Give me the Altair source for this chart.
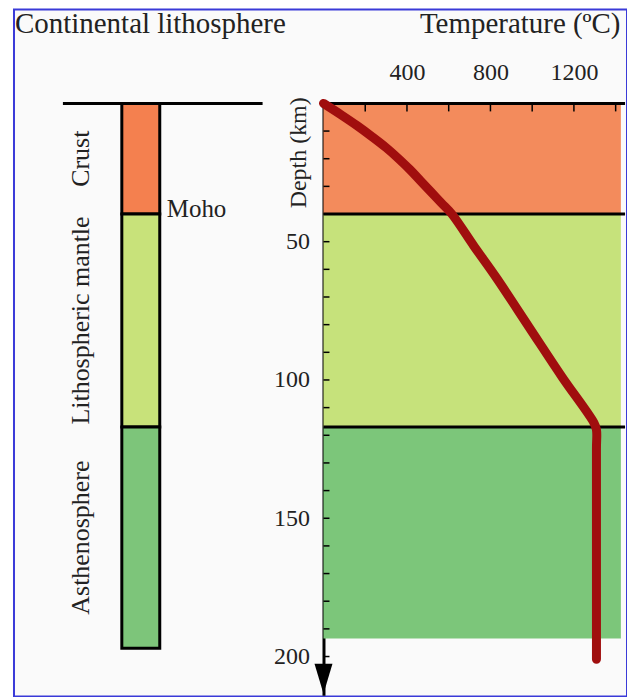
import altair as alt
import pandas as pd

# ---------------- data ----------------
main_title = "Continental lithosphere"
temp_title = "Temperature (ºC)"
depth_title = "Depth (km)"

layer_names = ["Crust", "Lithospheric mantle", "Asthenosphere"]
layer_top = [0, 40, 117]
strip_bottom = [40, 117, 197]
band_bottom = [40, 117, 193.5]
strip_colors = ["#F4804F", "#C8E27A", "#7DC57A"]
band_colors = ["#F38B5C", "#C6E27B", "#7CC67A"]

boundary_depth = [0, 40, 117]
moho_label = "Moho"
moho_depth = 40

geo_temp = [0, 82, 160, 232, 300, 360, 415, 465, 515, 565, 615,
            720, 828, 986, 1144, 1296, 1308, 1308, 1308]
geo_depth = [0, 4, 8, 12, 16, 20, 24, 28, 32, 36, 40,
             51.5, 63, 81, 99, 115.5, 118, 125, 201]

temp_ticks = [200, 400, 600, 800, 1000, 1200, 1400]
temp_labels = [400, 800, 1200]
depth_ticks = list(range(10, 201, 10))
depth_labels = [50, 100, 150, 200]

FONT = "Liberation Serif"
TXT = "#222222"

# ---------------- tables ----------------
strip_df = pd.DataFrame({"name": layer_names, "top": layer_top, "bottom": strip_bottom})
band_df = pd.DataFrame({"name": layer_names, "top": layer_top, "bottom": band_bottom,
                        "tmin": [0] * 3, "tmax": [1425] * 3})
bound_df = pd.DataFrame({"depth": boundary_depth})
geo_df = pd.DataFrame({"temp": geo_temp, "depth": geo_depth})
ytick_df = pd.DataFrame({"depth": depth_ticks})
xtick_df = pd.DataFrame({"temp": temp_ticks})

x_scale = alt.Scale(domain=[0, 1440], range=[310, 611], nice=False, zero=False)
y_scale = alt.Scale(domain=[0, 214], range=[94, 686.8], nice=False, zero=False)

x_axis = alt.Axis(
    orient="top", offset=-94, values=temp_labels, format="d",
    domain=False, ticks=False, grid=False, labelOverlap=False,
    labelFont=FONT, labelFontSize=24, labelColor=TXT,
    labelBaseline="alphabetic", labelPadding=24, labelAngle=0,
    title=temp_title, titleFont=FONT, titleFontSize=29, titleFontWeight="normal",
    titleColor=TXT, titleX=607, titleY=-71, titleAlign="right",
    titleBaseline="alphabetic", titleAngle=0,
)
y_axis = alt.Axis(
    orient="left", offset=-310, values=depth_labels, format="d",
    domain=True, domainColor="black", domainWidth=3,
    ticks=False, grid=False, labelOverlap=False,
    labelFont=FONT, labelFontSize=24, labelColor=TXT,
    labelPadding=14, labelBaseline="middle",
    title=depth_title, titleFont=FONT, titleFontSize=24, titleFontWeight="normal",
    titleColor=TXT, titleX=-25, titleY=143, titleAngle=270,
    titleAlign="center", titleBaseline="middle",
)

# right panel colour bands
bands = alt.Chart(band_df).mark_rect().encode(
    x=alt.X("tmin:Q", scale=x_scale, axis=x_axis),
    x2="tmax:Q",
    y=alt.Y("top:Q", scale=y_scale, axis=y_axis),
    y2="bottom:Q",
    color=alt.Color("name:N", scale=alt.Scale(domain=layer_names, range=band_colors), legend=None),
)

bounds = alt.Chart(bound_df).mark_rule(color="black", strokeWidth=3).encode(
    y="depth:Q", x=alt.datum(0), x2=alt.datum(1445)
)

# inward-pointing tick marks
yticks = alt.Chart(ytick_df).mark_tick(orient="horizontal", size=6, thickness=1.5,
                                       color="black", xOffset=3, opacity=1).encode(
    y="depth:Q", x=alt.datum(0)
)
xticks = alt.Chart(xtick_df).mark_tick(orient="vertical", size=8, thickness=1.5,
                                       color="black", yOffset=4, opacity=1).encode(
    x="temp:Q", y=alt.datum(0)
)

geotherm = alt.Chart(geo_df).mark_line(color="#A00E0E", strokeWidth=9, strokeCap="round",
                                       strokeJoin="round", interpolate="catmull-rom").encode(
    x="temp:Q", y="depth:Q", order=alt.Order("depth:Q")
)

arrow = alt.Chart(pd.DataFrame({"d": [208]})).mark_point(
    shape="M-0.6,-1L0.6,-1L0,1Z", filled=True, size=900, color="black", opacity=1
).encode(x=alt.datum(0), y="d:Q")

# left panel
surface = alt.Chart(pd.DataFrame({"d": [0]})).mark_rule(color="black", strokeWidth=3).encode(
    y="d:Q", x=alt.value(49), x2=alt.value(249)
)

strip = alt.Chart(strip_df).mark_rect(stroke="black", strokeWidth=3).encode(
    x=alt.value(108), x2=alt.value(146),
    y="top:Q", y2="bottom:Q",
    fill=alt.Fill("name:N", scale=alt.Scale(domain=layer_names, range=strip_colors), legend=None),
)

strip_labels = alt.Chart(strip_df).transform_calculate(
    mid="(datum.top + datum.bottom) / 2"
).mark_text(angle=270, align="center", baseline="middle", font=FONT, fontSize=26,
            color=TXT).encode(
    x=alt.value(67), y="mid:Q", text="name:N"
)

moho = alt.Chart(pd.DataFrame({"t": [moho_label], "d": [moho_depth]})).mark_text(
    align="left", baseline="alphabetic", font=FONT, fontSize=25, color=TXT, dy=3
).encode(x=alt.value(153), y="d:Q", text="t:N")

title = alt.Chart(pd.DataFrame({"t": [main_title]})).mark_text(
    align="left", baseline="alphabetic", font=FONT, fontSize=29, color=TXT
).encode(x=alt.value(1), y=alt.value(23), text="t:N")

chart = alt.layer(
    bands, bounds, yticks, xticks, geotherm, arrow, surface, strip, strip_labels, moho, title
).properties(
    width=614, height=688,
    autosize=alt.AutoSizeParams(type="none"),
    padding={"left": 6, "top": 1, "right": 0, "bottom": 0},
).configure(
    background="white"
).configure_view(
    stroke="#3A3AD8", strokeWidth=2, fill="#FAFAFA"
)

chart.save("out.html", embed_options={"renderer": "svg", "actions": False})
